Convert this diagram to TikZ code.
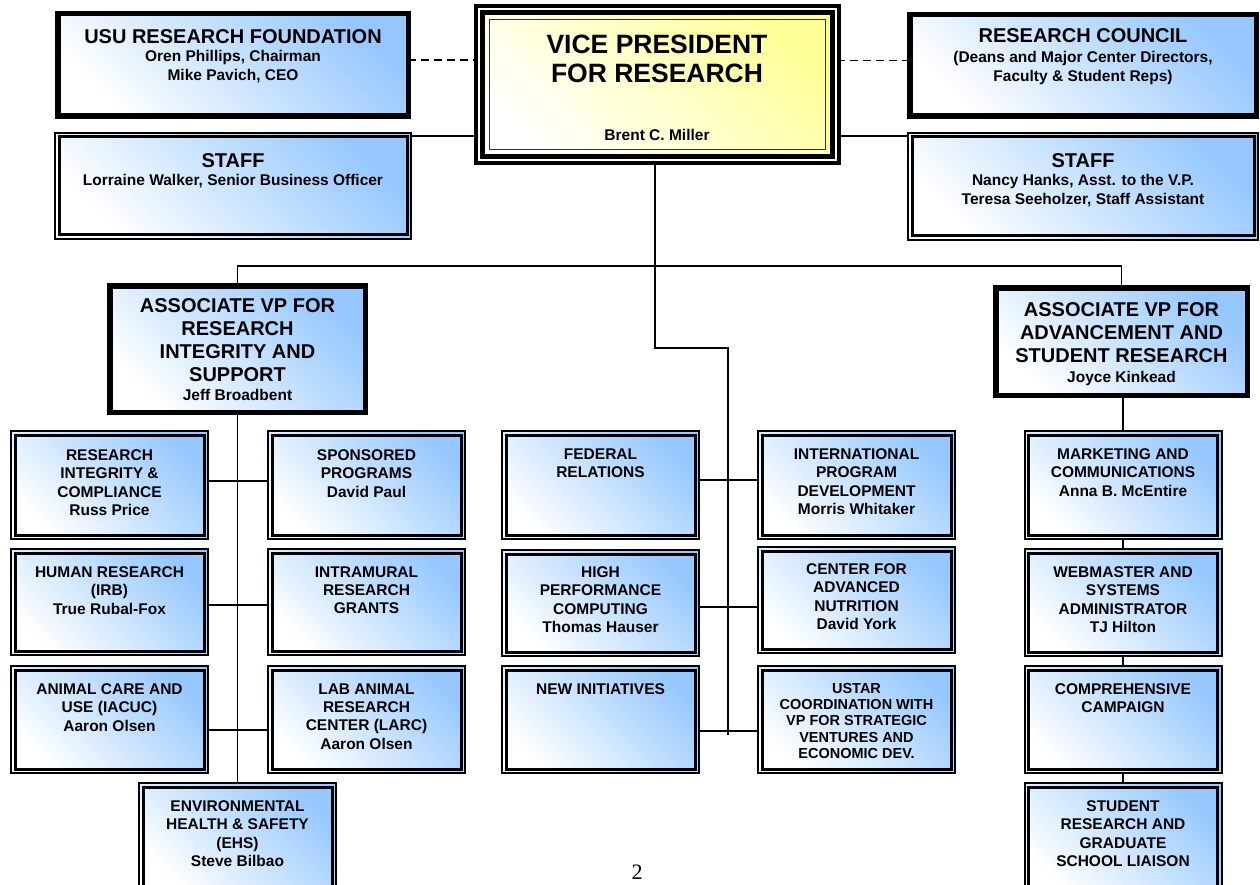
\documentclass[tikz,border=0pt]{standalone}
\usepackage{fontspec}
\setmainfont{Liberation Sans}
\newfontfamily\numfont{Liberation Serif}
\definecolor{boxblue}{RGB}{150,200,255}
\definecolor{vpyellow}{RGB}{255,255,150}
\tikzset{
  conn/.style={line width=1.8pt, draw=black},
  dashconn/.style={line width=1.8pt, draw=black, dash pattern=on 8pt off 5pt},
  bluegrad/.style={top color=boxblue, bottom color=white, shading angle=-45},
  thickbox/.style={bluegrad, draw=black, line width=5.5pt, inner sep=0pt, outer sep=0pt},
  dblbox/.style={bluegrad, draw=black, line width=2pt, inner sep=0pt, outer sep=0pt,
    path picture={\draw[line width=3pt] ([shift={(4pt,-4pt)}]path picture bounding box.north west) rectangle ([shift={(-4pt,4pt)}]path picture bounding box.south east);}},
  smallbox/.style={dblbox, minimum width=197pt, minimum height=#1},
  vpbox/.style={top color=vpyellow, bottom color=white, shading angle=-45, draw=black, line width=4pt, inner sep=0pt, outer sep=0pt,
    path picture={
      \draw[white, line width=2pt] ([shift={(3pt,-3pt)}]path picture bounding box.north west) rectangle ([shift={(-3pt,3pt)}]path picture bounding box.south east);
      \draw[black, line width=5pt] ([shift={(6.5pt,-6.5pt)}]path picture bounding box.north west) rectangle ([shift={(-6.5pt,6.5pt)}]path picture bounding box.south east);
      \draw[black!80, line width=1.4pt] ([shift={(13.5pt,-13.5pt)}]path picture bounding box.north west) rectangle ([shift={(-13.5pt,13.5pt)}]path picture bounding box.south east);}},
  vptitle/.style={font=\bfseries\fontsize{26.5}{28.7}\selectfont, align=center, inner sep=0pt, anchor=north, yshift=18.2pt},
  ttl/.style={font=\bfseries\fontsize{20}{23}\selectfont, align=center, inner sep=0pt, anchor=north, yshift=13.8pt},
  sub/.style={font=\bfseries\fontsize{15.5}{18.5}\selectfont, align=center, inner sep=0pt, anchor=north, yshift=10.7pt},
  sm/.style={font=\bfseries\fontsize{15.5}{18.4}\selectfont, align=center, inner sep=0pt, anchor=north, yshift=10.7pt},
  tiny/.style={font=\bfseries\fontsize{14.5}{16.3}\selectfont, align=center, inner sep=0pt, anchor=north, yshift=10pt},
}
\begin{document}
\begin{tikzpicture}[x=1pt,y=-1pt]
\useasboundingbox (0,0) rectangle (1260,885);
\clip (0,0) rectangle (1260,885);
\fill[white] (0,0) rectangle (1260,885);

% ---------- top row ----------
\node[thickbox, minimum width=350.5pt, minimum height=102.5pt] (usu) at (233,65) {};
\node[ttl] (usu-t) at (233,43) {USU RESEARCH FOUNDATION};
\node[sub] (usu-s) at (233,61) {Oren Phillips, Chairman\\Mike Pavich, CEO};

\node[dblbox, minimum width=356pt, minimum height=106pt] (staffL) at (233,186) {};
\node[ttl] (staffL-t) at (233,167) {STAFF};
\node[sub] (staffL-s) at (233,185) {Lorraine Walker, Senior Business Officer};

\node[vpbox, minimum width=363pt, minimum height=157pt] (vp) at (657.5,84.5) {};
\node[vptitle] (vp-t) at (657,53) {VICE PRESIDENT\\FOR RESEARCH};
\node[sub] (vp-s) at (657,140) {Brent C. Miller};

\node[thickbox, minimum width=346.5pt, minimum height=101.5pt] (rc) at (1083,65.5) {};
\node[ttl] (rc-t) at (1083,42) {RESEARCH COUNCIL};
\node[sub] (rc-s) at (1083,62) {(Deans and Major Center Directors,\\Faculty \& Student Reps)};

\node[dblbox, minimum width=350pt, minimum height=107pt] (staffR) at (1083,186.5) {};
\node[ttl] (staffR-t) at (1083,167) {STAFF};
\node[sub] (staffR-s) at (1083,185) {Nancy Hanks, Asst. to the V.P.\\Teresa Seeholzer, Staff Assistant};

% ---------- associate VPs ----------
\node[thickbox, minimum width=255.5pt, minimum height=126.5pt] (avpL) at (237.5,349) {};
\node[ttl] (avpL-t) at (237.5,312) {ASSOCIATE VP FOR\\RESEARCH\\INTEGRITY AND\\SUPPORT};
\node[sub] (avpL-s) at (237.5,400) {Jeff Broadbent};

\node[thickbox, minimum width=251.5pt, minimum height=107.5pt] (avpR) at (1121.5,341.5) {};
\node[ttl] (avpR-t) at (1121.5,316) {ASSOCIATE VP FOR\\ADVANCEMENT AND\\STUDENT RESEARCH};
\node[sub] (avpR-s) at (1121.5,382) {Joyce Kinkead};

% ---------- left group ----------
\node[smallbox=108pt] (ric) at (109.5,485) {};
\node[sm] (ric-t) at (109.5,460) {RESEARCH\\INTEGRITY \&\\COMPLIANCE\\Russ Price};
\node[smallbox=108pt] (spp) at (366.5,485) {};
\node[sm] (spp-t) at (366.5,460) {SPONSORED\\PROGRAMS\\David Paul};
\node[smallbox=106pt] (hum) at (109.5,602) {};
\node[sm] (hum-t) at (109.5,577) {HUMAN RESEARCH\\(IRB)\\True Rubal-Fox};
\node[smallbox=106pt] (irg) at (366.5,602) {};
\node[sm] (irg-t) at (366.5,577) {INTRAMURAL\\RESEARCH\\GRANTS};
\node[smallbox=107pt] (acu) at (109.5,719.5) {};
\node[sm] (acu-t) at (109.5,694) {ANIMAL CARE AND\\USE (IACUC)\\Aaron Olsen};
\node[smallbox=107pt] (lar) at (366.5,719.5) {};
\node[sm] (lar-t) at (366.5,694) {LAB ANIMAL\\RESEARCH\\CENTER (LARC)\\Aaron Olsen};
\node[smallbox=111pt] (ehs) at (237.5,838.5) {};
\node[sm] (ehs-t) at (237.5,811) {ENVIRONMENTAL\\HEALTH \& SAFETY\\(EHS)\\Steve Bilbao};

% ---------- centre group ----------
\node[smallbox=108pt] (fed) at (600.5,485) {};
\node[sm] (fed-t) at (600.5,459) {FEDERAL\\RELATIONS};
\node[smallbox=108pt] (ipd) at (856.5,485) {};
\node[sm] (ipd-t) at (856.5,459) {INTERNATIONAL\\PROGRAM\\DEVELOPMENT\\Morris Whitaker};
\node[smallbox=106pt] (hpc) at (600.5,603) {};
\node[sm] (hpc-t) at (600.5,577) {HIGH\\PERFORMANCE\\COMPUTING\\Thomas Hauser};
\node[smallbox=106pt] (can) at (856.5,600) {};
\node[sm] (can-t) at (856.5,574) {CENTER FOR\\ADVANCED\\NUTRITION\\David York};
\node[smallbox=107pt] (new) at (600.5,719.5) {};
\node[sm] (new-t) at (600.5,694) {NEW INITIATIVES};
\node[smallbox=107pt] (ust) at (856.5,719.5) {};
\node[tiny] (ust-t) at (856.5,693) {USTAR\\COORDINATION WITH\\VP FOR STRATEGIC\\VENTURES AND\\ECONOMIC DEV.};

% ---------- right group ----------
\node[smallbox=108pt] (mkt) at (1123,485) {};
\node[sm] (mkt-t) at (1123,459) {MARKETING AND\\COMMUNICATIONS\\Anna B. McEntire};
\node[smallbox=107pt] (web) at (1123,602.5) {};
\node[sm] (web-t) at (1123,577) {WEBMASTER AND\\SYSTEMS\\ADMINISTRATOR\\TJ Hilton};
\node[smallbox=107pt] (cmp) at (1123,719.5) {};
\node[sm] (cmp-t) at (1123,694) {COMPREHENSIVE\\CAMPAIGN};
\node[smallbox=111pt] (stu) at (1123,838.5) {};
\node[sm] (stu-t) at (1123,811) {STUDENT\\RESEARCH AND\\GRADUATE\\SCHOOL LIAISON};

% ---------- page number ----------
\node[font=\numfont\fontsize{22}{24}\selectfont, inner sep=0pt] (pg) at (637,872) {2};

% ---------- connectors ----------
\coordinate (ctrend) at (728,735);
\draw[dashconn] ([yshift=5pt]usu.east) -- ([yshift=5pt]usu.east -| vp.west);
\draw[dashconn] ([yshift=5pt]rc.west) -- ([yshift=5pt]rc.west -| vp.east);
\draw[conn] ([yshift=-3pt]staffL.north east) -- ([yshift=-3pt]staffL.north east -| vp.west);
\draw[conn] ([yshift=-3pt]staffR.north west) -- ([yshift=-3pt]staffR.north west -| vp.east);
\draw[conn] ([xshift=-2.5pt]vp.south) -- ++(0,185) -| (ctrend);
\draw[conn] (avpL.north) -- ++(0,-20) -| (avpR.north);
\draw[conn] (avpL.south) -- (ehs.north);
\draw[conn] ([yshift=4pt]ric.east) -- ([yshift=4pt]ric.east -| spp.west);
\draw[conn] ([yshift=-3pt]hum.east) -- ([yshift=-3pt]hum.east -| irg.west);
\draw[conn] ([yshift=-10.5pt]acu.east) -- ([yshift=-10.5pt]acu.east -| lar.west);
\draw[conn] ([yshift=5pt]fed.east) -- ([yshift=5pt]fed.east -| ipd.west);
\draw[conn] ([yshift=-4pt]hpc.east) -- ([yshift=-4pt]hpc.east -| can.west);
\draw[conn] ([yshift=-11.5pt]new.east) -- ([yshift=-11.5pt]new.east -| ust.west);
\draw[conn] (avpR.south -| mkt.north) -- (mkt.north);
\draw[conn] (mkt.south) -- (web.north);
\draw[conn] (web.south) -- (cmp.north);
\draw[conn] (cmp.south) -- (stu.north);
\end{tikzpicture}
\end{document}
